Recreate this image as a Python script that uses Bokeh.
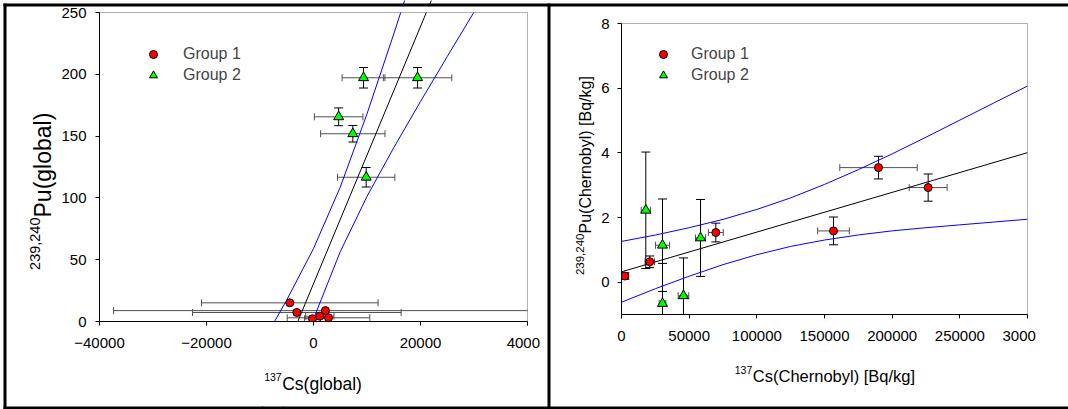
from math import pi
from bokeh.plotting import figure
from bokeh.models import (ColumnDataSource, FixedTicker, BasicTickFormatter, Label,
                          BoxAnnotation, Legend, LegendItem, Range1d, LinearAxis)
from bokeh.embed import file_html
from bokeh.resources import INLINE

FONT = "Liberation Sans"
RED = "#ff0000"
GREEN = "#00ff00"
BLUE = "#0000ff"
HBAR = "#505050"

# ---------------- data: left panel (global) ----------------
glob_g1_cs = [-4430, -3120, 2240, -190, 1180, 2800]
glob_g1_pu = [15.1, 7.3, 8.8, 2.2, 4.3, 3.0]
glob_g1_cs_err = [16500, 19500, 39600, 1500, 2650, 7720]

glob_g2_cs = [9350, 19450, 4700, 7350, 9850]
glob_g2_pu = [197.2, 197.2, 165.6, 151.9, 116.7]
glob_g2_cs_err = [4000, 6400, 4540, 6020, 5360]
glob_g2_pu_err = [8.3, 8.3, 7.2, 6.7, 7.9]

glob_fit_cs = [-10000, 30000]
glob_fit_pu = [-73.5, 342.7]
glob_band_cs = [-10000, -5000, 0, 5000, 10000, 15000, 20000, 25000, 30000]
glob_band_hi = [-20.7, 17.4, 59.0, 108.7, 168.0, 232.6, 299.4, 367.0, 435.1]
glob_band_lo = [-126.3, -60.4, 2.0, 56.5, 101.2, 140.6, 178.0, 214.4, 250.3]

glob_xlim = (-40000, 40000)
glob_ylim = (0, 250)
glob_xticks = [-40000, -20000, 0, 20000, 40000]
glob_yticks = [0, 50, 100, 150, 200, 250]

# ---------------- data: right panel (Chernobyl) ----------------
cher_g1_cs = [2440, 20900, 69700, 156650, 189900, 226600]
cher_g1_pu = [0.19, 0.63, 1.535, 1.585, 3.543, 2.925]
cher_g1_cs_err = [2700, 3500, 5500, 11700, 28600, 14000]
cher_g1_pu_err = [0.1, 0.18, 0.29, 0.43, 0.35, 0.42]

cher_g2_cs = [17960, 30300, 30300, 45800, 58400]
cher_g2_pu = [2.224, 1.143, -0.66, -0.42, 1.368]
cher_g2_cs_err = [3400, 5200, 2500, 3900, 3700]
cher_g2_pu_err = [1.8, 1.43, 1.24, 1.17, 1.19]

cher_fit_cs = [0, 300000]
cher_fit_pu = [0.32, 4.006]
cher_band_cs = [0, 25000, 50000, 75000, 100000, 125000, 150000, 175000,
                200000, 225000, 250000, 275000, 300000]
cher_band_hi = [1.26, 1.457, 1.684, 1.942, 2.249, 2.606, 3.023, 3.48,
                3.967, 4.484, 5.012, 5.539, 6.066]
cher_band_lo = [-0.62, -0.203, 0.184, 0.542, 0.849, 1.106, 1.303, 1.46,
                1.587, 1.684, 1.772, 1.859, 1.946]

cher_xlim = (0, 300000)
cher_ylim = (-1, 8)
cher_xticks = [0, 50000, 100000, 150000, 200000, 250000, 300000]
cher_yticks = [0, 2, 4, 6, 8]

group_labels = ["Group 1", "Group 2"]

# ---------------- layout geometry (page pixels) ----------------
W, H = 1068, 409
# plot areas: (left, right, top, bottom)
LBOX = (99, 527, 12, 321)
RBOX = (621, 1027, 23, 314)


def extra_range(lo, hi, p_lo, p_hi, total, flip=False):
    # data range covering the whole canvas, given that lo..hi spans pixels p_lo..p_hi
    if not flip:
        per = (hi - lo) / (p_hi - p_lo)
        return Range1d(lo - p_lo * per, hi + (total - p_hi) * per)
    # vertical: p_lo is the pixel of lo (bottom), p_hi pixel of hi (top)
    per = (hi - lo) / (p_lo - p_hi)
    return Range1d(lo - (total - p_lo) * per, hi + p_hi * per)


p = figure(width=W, height=H, x_range=Range1d(0, W), y_range=Range1d(H, 0),
           x_axis_type=None, y_axis_type=None, output_backend="svg",
           toolbar_location=None, tools="", title=None,
           min_border=0, min_border_left=0, min_border_right=0,
           min_border_top=0, min_border_bottom=0)
p.outline_line_color = None
p.background_fill_color = "white"
p.border_fill_color = "white"

p.extra_x_ranges = {
    "lx": extra_range(glob_xlim[0], glob_xlim[1], LBOX[0], LBOX[1], W),
    "rx": extra_range(cher_xlim[0], cher_xlim[1], RBOX[0], RBOX[1], W),
}
p.extra_y_ranges = {
    "ly": extra_range(glob_ylim[0], glob_ylim[1], LBOX[3], LBOX[2], H, flip=True),
    "ry": extra_range(cher_ylim[0], cher_ylim[1], RBOX[3], RBOX[2], H, flip=True),
}


def errbars(xr, yr, xs, ys, xerr, yerr):
    hs = ColumnDataSource(dict(y=ys, lo=[x - e for x, e in zip(xs, xerr)],
                               hi=[x + e for x, e in zip(xs, xerr)]))
    kw = dict(source=hs, x_range_name=xr, y_range_name=yr)
    p.segment(x0="lo", y0="y", x1="hi", y1="y", line_color=HBAR, line_width=1, **kw)
    p.scatter(x="lo", y="y", marker="dash", angle=pi / 2, size=7, line_color=HBAR, **kw)
    p.scatter(x="hi", y="y", marker="dash", angle=pi / 2, size=7, line_color=HBAR, **kw)
    if yerr is not None:
        vs = ColumnDataSource(dict(x=xs, lo=[y - e for y, e in zip(ys, yerr)],
                                   hi=[y + e for y, e in zip(ys, yerr)]))
        kw = dict(source=vs, x_range_name=xr, y_range_name=yr)
        p.segment(x0="x", y0="lo", x1="x", y1="hi", line_color="black", line_width=1, **kw)
        p.scatter(x="x", y="lo", marker="dash", size=9, line_color="black", **kw)
        p.scatter(x="x", y="hi", marker="dash", size=9, line_color="black", **kw)


def draw_panel(xr, yr, g1, g2, fit, band):
    errbars(xr, yr, *g1[:3], None if len(g1) < 4 else g1[3])
    errbars(xr, yr, *g2)
    kw = dict(x_range_name=xr, y_range_name=yr)
    p.line(fit[0], fit[1], line_color="black", line_width=1, **kw)
    p.line(band[0], band[1], line_color=BLUE, line_width=1, **kw)
    p.line(band[0], band[2], line_color=BLUE, line_width=1, **kw)
    r1 = p.scatter(g1[0], g1[1], marker="circle", size=8, fill_color=RED,
                   line_color="black", line_width=1, **kw)
    r2 = p.scatter(g2[0], g2[1], marker="triangle", size=10, fill_color=GREEN,
                   line_color="black", line_width=1, **kw)
    return r1, r2


r11, r12 = draw_panel("lx", "ly",
                      (glob_g1_cs, glob_g1_pu, glob_g1_cs_err),
                      (glob_g2_cs, glob_g2_pu, glob_g2_cs_err, glob_g2_pu_err),
                      (glob_fit_cs, glob_fit_pu),
                      (glob_band_cs, glob_band_hi, glob_band_lo))
r21, r22 = draw_panel("rx", "ry",
                      (cher_g1_cs, cher_g1_pu, cher_g1_cs_err, cher_g1_pu_err),
                      (cher_g2_cs, cher_g2_pu, cher_g2_cs_err, cher_g2_pu_err),
                      (cher_fit_cs, cher_fit_pu),
                      (cher_band_cs, cher_band_hi, cher_band_lo))

# white masks so that marks stay inside their plot areas (page pixel coordinates)
mask_l, mask_r, mask_t, mask_b = [], [], [], []
for (pl, pr, pt, pb), (ol, orr) in ((LBOX, (6, 547)), (RBOX, (550, W))):
    for l_, r_, t_, b_ in ((ol, orr, 6, pt), (ol, orr, pb, 406), (ol, pl, pt, pb), (pr, orr, pt, pb)):
        mask_l.append(l_); mask_r.append(r_); mask_t.append(t_); mask_b.append(b_)
p.quad(left=mask_l, right=mask_r, top=mask_t, bottom=mask_b, fill_color="white",
       line_color=None)


def add_axes(xr, yr, xlim, ylim, xticks, yticks, xover, ystand):
    common = dict(x_range_name=xr, y_range_name=yr, major_tick_out=4, major_tick_in=0,
                  minor_tick_line_color=None, axis_line_color="black",
                  major_tick_line_color="black", major_label_text_font=FONT,
                  major_label_text_font_size="15px", major_label_text_color="black",
                  formatter=BasicTickFormatter(use_scientific=False))
    xa = LinearAxis(fixed_location=ylim[0], bounds=xlim, ticker=FixedTicker(ticks=xticks),
                    major_label_overrides=xover, major_label_standoff=8, **common)
    common["formatter"] = BasicTickFormatter(use_scientific=False)
    ya = LinearAxis(fixed_location=xlim[0], bounds=ylim, ticker=FixedTicker(ticks=yticks),
                    major_label_standoff=ystand, **common)
    p.add_layout(xa, "below")
    p.add_layout(ya, "left")
    p.add_layout(BoxAnnotation(left=xlim[0], right=xlim[1], bottom=ylim[0], top=ylim[1],
                               x_range_name=xr, y_range_name=yr, fill_color=None,
                               fill_alpha=0, line_color="black", line_width=1))


add_axes("lx", "ly", glob_xlim, glob_ylim, glob_xticks, glob_yticks, {40000: "4000\u2007"}, 9)
add_axes("rx", "ry", cher_xlim, cher_ylim, cher_xticks, cher_yticks,
         {300000: "3000\u2007\u2007"}, 8)


def legend(r1, r2, loc, standoff):
    p.add_layout(Legend(items=[LegendItem(label=group_labels[0], renderers=[r1]),
                               LegendItem(label=group_labels[1], renderers=[r2])],
                        location=loc, orientation="vertical", padding=0, margin=0,
                        spacing=1, glyph_width=20, glyph_height=20, label_height=20,
                        label_standoff=standoff, label_text_font=FONT,
                        label_text_font_size="16px", border_line_color=None,
                        background_fill_alpha=0))


# legend location: (left, distance of legend bottom from canvas bottom)
legend(r11, r12, (143, 324), 20)
legend(r21, r22, (653, 324), 18)


def text(sx, sy, s, size, align, angle=0.0):
    p.add_layout(Label(x=sx, y=sy, text=s, text_font=FONT, text_font_size=size,
                       text_align=align, text_baseline="alphabetic", angle=angle,
                       text_color="black"))


# axis titles (page pixel positions)
text(281.7, 383, "Cs(global)", "17.5px", "left")
text(281.2, 376, "137", "10.5px", "right")
text(42, 217, "Pu(global)", "23px", "left", pi / 2)
text(34, 217, "239,240", "14.5px", "right", pi / 2)

text(752.3, 375, "Cs(Chernobyl) [Bq/kg]", "16.5px", "left")
text(751.8, 369, "137", "10.5px", "right")
text(585, 233, "Pu(Chernobyl)  [Bq/kg]", "16px", "left", pi / 2)
text(579, 233, "239,240", "11.5px", "right", pi / 2)

# panel borders
for l_, r_, t_, b_ in ((3, W, 3, 6), (3, W, 406, 409), (3, 6, 3, 409), (547, 550, 3, 409)):
    p.add_layout(BoxAnnotation(left=l_, right=r_, top=t_, bottom=b_, fill_color="black",
                               fill_alpha=1.0, line_color=None, level="overlay"))

open("out.html", "w").write(file_html(p, INLINE))
